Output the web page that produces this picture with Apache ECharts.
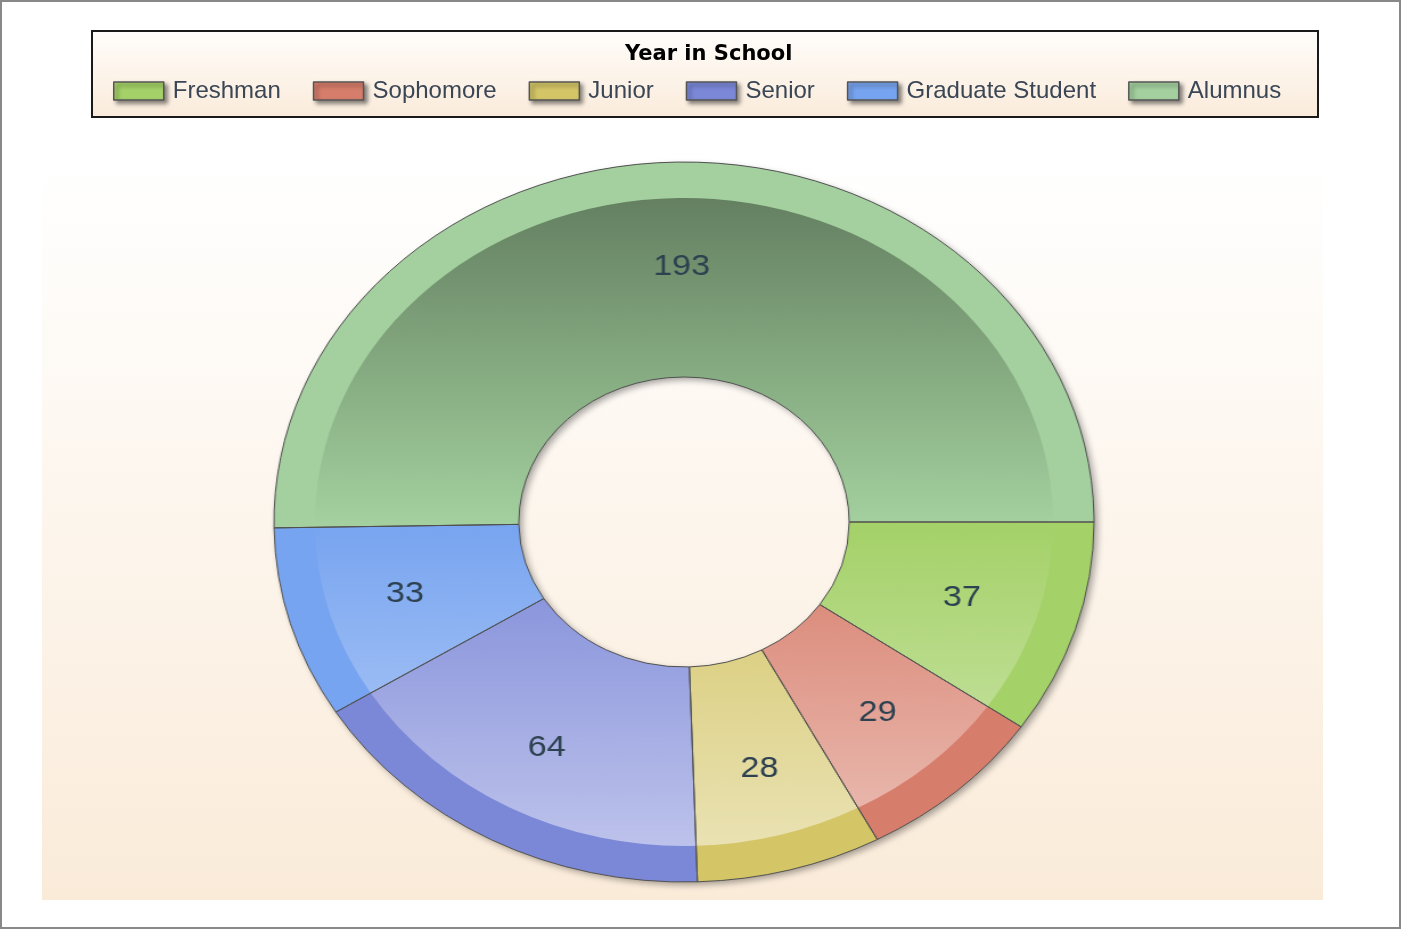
<!DOCTYPE html>
<html lang="en">
<head>
    <meta charset="UTF-8">
    <title>Year in School</title>
    <style type="text/css">
        *{
            margin: 0;
            padding: 0;
        }
        body{
            background: #fff;
        }
        #main{
            position: absolute;
            left: 0;
            top: 0;
            width: 1402px;
            height: 930px;
        }
        /* the pie is drawn round, then stretched sideways into the ellipse of the original */
        #pie{
            position: absolute;
            left: 314px;
            top: 152px;
            width: 740px;
            height: 740px;
            transform: scaleX(1.139);
            transform-origin: 370px 370px;
        }
    </style>
</head>
<body>
    <div id="main"></div>
    <div id="pie"></div>
    <script src="https://cdn.jsdelivr.net/npm/echarts@6/dist/echarts.min.js"></script>
    <script type="text/javascript">
        var years = ['Freshman', 'Sophomore', 'Junior', 'Senior', 'Graduate Student', 'Alumnus'];
        var counts = [37, 29, 28, 64, 33, 193];
        var colors = ['#A4D168', '#D77D6B', '#D4C567', '#7B88D8', '#77A4F0', '#A3D09E'];

        var total = counts.reduce(function (a, b) { return a + b; }, 0);

        function mix(hex, target, f) {
            var a = parseInt(hex.slice(1), 16), b = parseInt(target.slice(1), 16);
            var r1 = a >> 16, g1 = (a >> 8) & 255, b1 = a & 255;
            var r2 = b >> 16, g2 = (b >> 8) & 255, b2 = b & 255;
            return 'rgb(' + Math.round(r1 + (r2 - r1) * f) + ',' + Math.round(g1 + (g2 - g1) * f) + ',' +
                Math.round(b1 + (b2 - b1) * f) + ')';
        }

        // gradient over the whole pie height (pie canvas coords: top 10, bottom 730)
        function shade(c) {
            return new echarts.graphic.LinearGradient(0, 10, 0, 730, [
                {offset: 0, color: mix(c, '#000000', 0.43)},
                {offset: 0.5, color: c},
                {offset: 1, color: mix(c, '#ffffff', 0.55)}
            ], true);
        }

        var flatData = years.map(function (name, i) {
            return {name: name, value: counts[i], itemStyle: {color: colors[i]}};
        });
        var shadedData = years.map(function (name, i) {
            return {name: name, value: counts[i], itemStyle: {color: shade(colors[i])}};
        });

        // ---- background, title and legend ----
        var mainChart = echarts.init(document.getElementById('main'));
        mainChart.setOption({
            animation: false,
            backgroundColor: '#ffffff',
            graphic: [
                {
                    type: 'rect',
                    shape: {x: 1, y: 1, width: 1399, height: 927},
                    style: {fill: null, stroke: '#888888', lineWidth: 2}
                },
                {
                    type: 'rect',
                    shape: {x: 42, y: 163, width: 1281, height: 737},
                    style: {
                        fill: new echarts.graphic.LinearGradient(0, 0, 0, 1, [
                            {offset: 0, color: '#FFFFFF'},
                            {offset: 1, color: '#FAEBD9'}
                        ])
                    }
                },
                {
                    type: 'rect',
                    shape: {x: 92, y: 31, width: 1226, height: 86},
                    style: {
                        fill: new echarts.graphic.LinearGradient(0, 0, 0, 1, [
                            {offset: 0, color: '#FFFDFB'},
                            {offset: 1, color: '#FAEBDA'}
                        ]),
                        stroke: '#1a1a1a',
                        lineWidth: 2
                    }
                }
            ],
            title: {
                text: 'Year in School',
                left: 625,
                top: 44,
                padding: 0,
                textStyle: {
                    fontFamily: 'DejaVu Sans',
                    fontSize: 21,
                    fontWeight: 'bold',
                    color: '#000'
                }
            },
            legend: {
                left: 113,
                top: 79,
                padding: 0,
                itemWidth: 50,
                itemHeight: 18,
                itemGap: 32,
                icon: 'rect',
                itemStyle: {
                    borderColor: '#555',
                    borderWidth: 1.5,
                    shadowBlur: 4,
                    shadowOffsetX: 3,
                    shadowOffsetY: 3,
                    shadowColor: 'rgba(0,0,0,0.45)'
                },
                textStyle: {
                    fontFamily: 'Liberation Sans',
                    fontSize: 24,
                    color: '#3a4655',
                    padding: [0, 0, 0, 4]
                },
                data: years
            },
            series: [{
                // only feeds the legend, parked outside the canvas
                type: 'pie',
                silent: true,
                center: [-500, -500],
                radius: 1,
                label: {show: false},
                data: flatData
            }]
        });

        // ---- the doughnut ----
        var pieChart = echarts.init(document.getElementById('pie'));
        var common = {
            type: 'pie',
            center: ['50%', '50%'],
            startAngle: 0,
            clockwise: true,
            silent: true
        };
        pieChart.setOption({
            animation: false,
            series: [
                Object.assign({}, common, {
                    radius: [145, 360],
                    label: {show: false},
                    itemStyle: {
                        color: '#bbbbbb',
                        shadowBlur: 6,
                        shadowOffsetX: 3,
                        shadowOffsetY: 3,
                        shadowColor: 'rgba(0,0,0,0.35)'
                    },
                    data: [{name: 'total', value: total}]
                }),
                Object.assign({}, common, {
                    radius: [145, 360],
                    label: {show: false},
                    data: flatData
                }),
                Object.assign({}, common, {
                    radius: [145, 324],
                    label: {show: false},
                    data: shadedData
                }),
                Object.assign({}, common, {
                    radius: [145, 360],
                    itemStyle: {
                        color: 'rgba(0,0,0,0)',
                        borderColor: '#505050',
                        borderWidth: 1
                    },
                    label: {
                        show: true,
                        position: 'inside',
                        formatter: '{c}',
                        fontFamily: 'Liberation Sans',
                        fontSize: 30,
                        color: '#2d4150'
                    },
                    data: years.map(function (name, i) {
                        return {name: name, value: counts[i]};
                    })
                })
            ]
        });
    </script>
</body>
</html>
